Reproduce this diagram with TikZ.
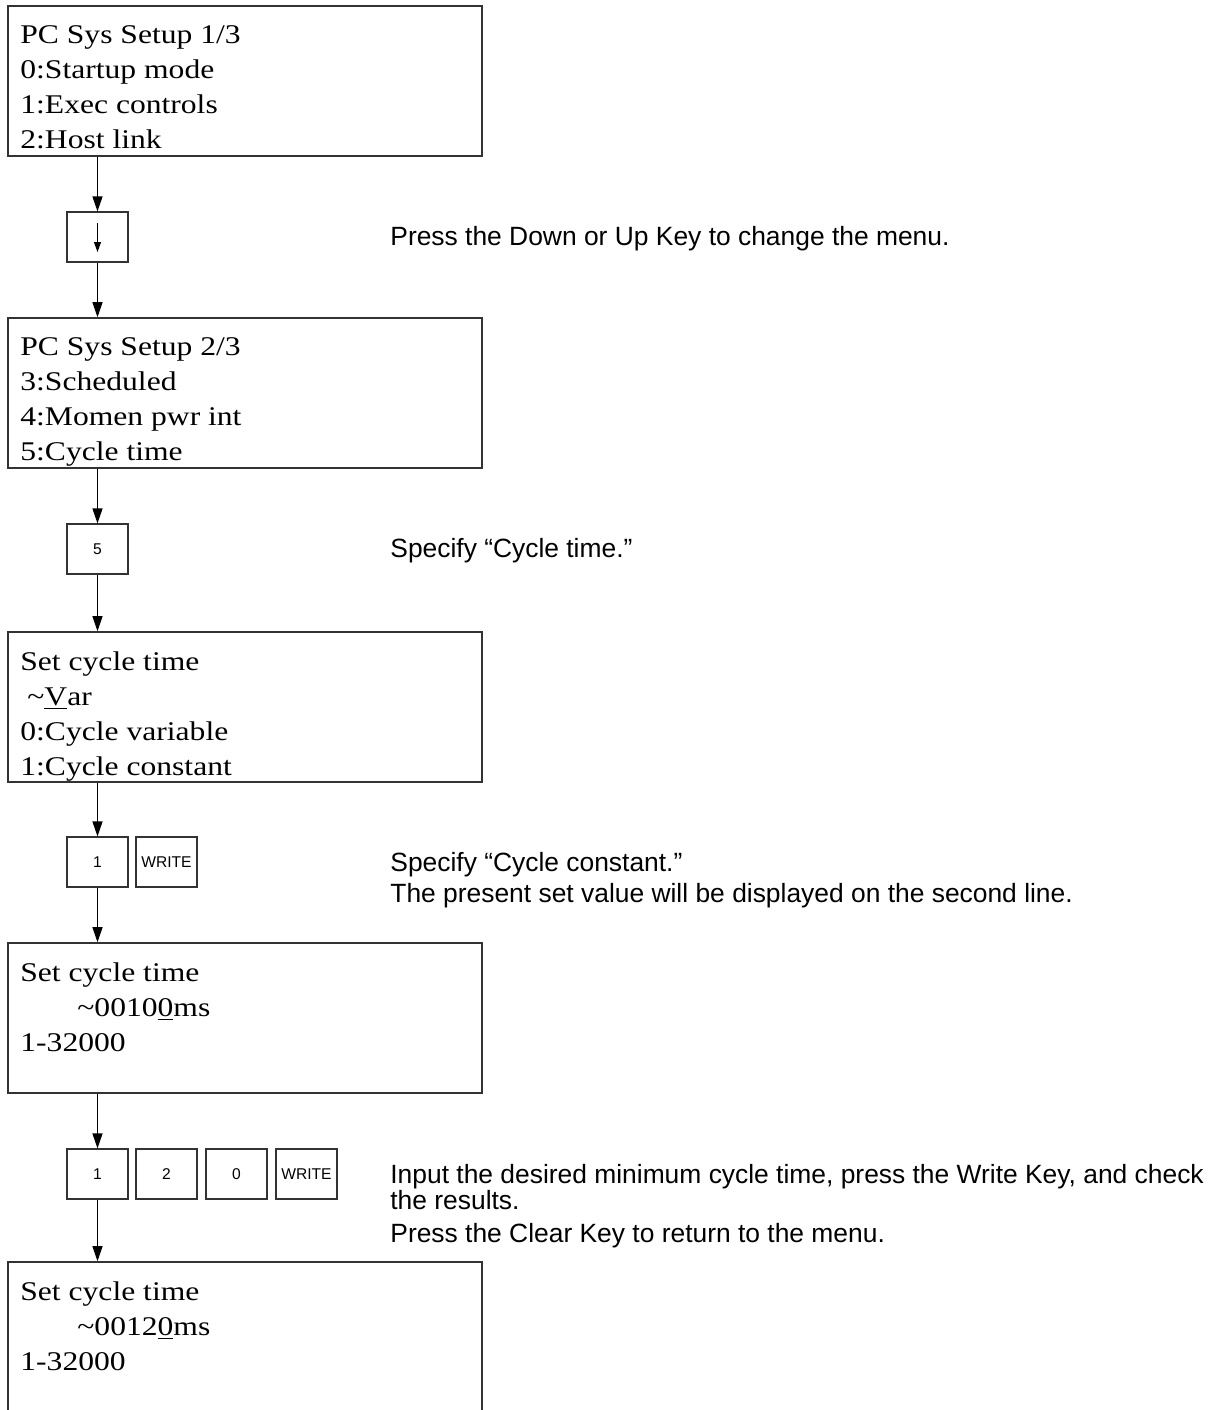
\documentclass[tikz,border=0pt]{standalone}
\usepackage{fontspec}
\setmainfont{Liberation Sans}
\newfontfamily\lcdfamily[FakeStretch=1.17]{Liberation Serif}
\usetikzlibrary{arrows.meta}
\newcommand\lcdstrut{\rule{0pt}{10pt}}

\begin{document}
\begin{tikzpicture}[
    x=0.5pt,
    y=-0.5pt,
    every node/.style={inner sep=0pt},
    lcd/.style={draw=black!80, line width=0.8pt, minimum width=237pt, minimum height=75pt},
    lcdtext/.style={anchor=north west, align=left, font=\lcdfamily\fontsize{13.5}{17.5}\selectfont, execute at begin node=\lcdstrut},
    key/.style={draw=black!80, line width=0.6pt, minimum width=30.5pt, minimum height=25pt, font=\fontsize{7.8}{9}\selectfont},
    note/.style={anchor=base west, font=\fontsize{13.2}{16}\selectfont},
    arrow/.style={-{Triangle[length=7.5pt, width=5pt]}, line width=0.6pt},
    keyarrow/.style={-{Triangle[length=5pt, width=3.5pt]}, line width=0.5pt}
]
\clip (0,0) rectangle (1208,1410);

% display screens
\node[lcd] (d1) at (245, 81) {};
\node[lcd] (d2) at (245, 393) {};
\node[lcd] (d3) at (245, 707) {};
\node[lcd] (d4) at (245, 1018) {};
\node[lcd, minimum height=80pt] (d5) at (245, 1342) {};

\node[lcdtext] (t1) at (20, 25) {PC Sys Setup 1/3\\0:Startup mode\\1:Exec controls\\2:Host link};
\node[lcdtext] (t2) at (20, 337) {PC Sys Setup 2/3\\3:Scheduled\\4:Momen pwr int\\5:Cycle time};
\node[lcdtext] (t3) at (20, 651) {Set cycle time\\\hspace*{3.5pt}\textasciitilde\underline{V}ar\\0:Cycle variable\\1:Cycle constant};
\node[lcdtext] (t4) at (20, 962) {Set cycle time\\\hspace*{28.5pt}\textasciitilde0010\underline{0}ms\\1-32000};
\node[lcdtext] (t5) at (20, 1281) {Set cycle time\\\hspace*{28.5pt}\textasciitilde0012\underline{0}ms\\1-32000};

% keys
\node[key] (kd) at (97.5, 237) {};
\draw[keyarrow] ([yshift=7pt]kd.center) -- ([yshift=-7.5pt]kd.center);
\node[key] (k5) at (97.5, 549) {5};
\node[key] (ka) at (97.5, 862) {1};
\node[key] (kaw) at (166.5, 862) {WRITE};
\node[key] (kb) at (97.5, 1174) {1};
\node[key] (kb2) at (166.5, 1174) {2};
\node[key] (kb0) at (236.5, 1174) {0};
\node[key] (kbw) at (306.5, 1174) {WRITE};

\foreach \d/\k/\n in {d1/kd/d2,d2/k5/d3,d3/ka/d4,d4/kb/d5}{
  \draw[arrow] (\k |- \d.south) -- (\k.north);
  \draw[arrow] (\k.south) -- (\k |- \n.north);
}

% explanations
\node[note] (n1) at (390, 245) {Press the Down or Up Key to change the menu.};
\node[note] (n2) at (390, 557) {Specify “Cycle time.”};
\node[note] (n3a) at (390, 871) {Specify “Cycle constant.”};
\node[note] (n3b) at (390, 902) {The present set value will be displayed on the second line.};
\node[note] (n4a) at (390, 1183) {Input the desired minimum cycle time, press the Write Key, and check};
\node[note] (n4b) at (390, 1209) {the results.};
\node[note] (n4c) at (390, 1242) {Press the Clear Key to return to the menu.};
\end{tikzpicture}
\end{document}
